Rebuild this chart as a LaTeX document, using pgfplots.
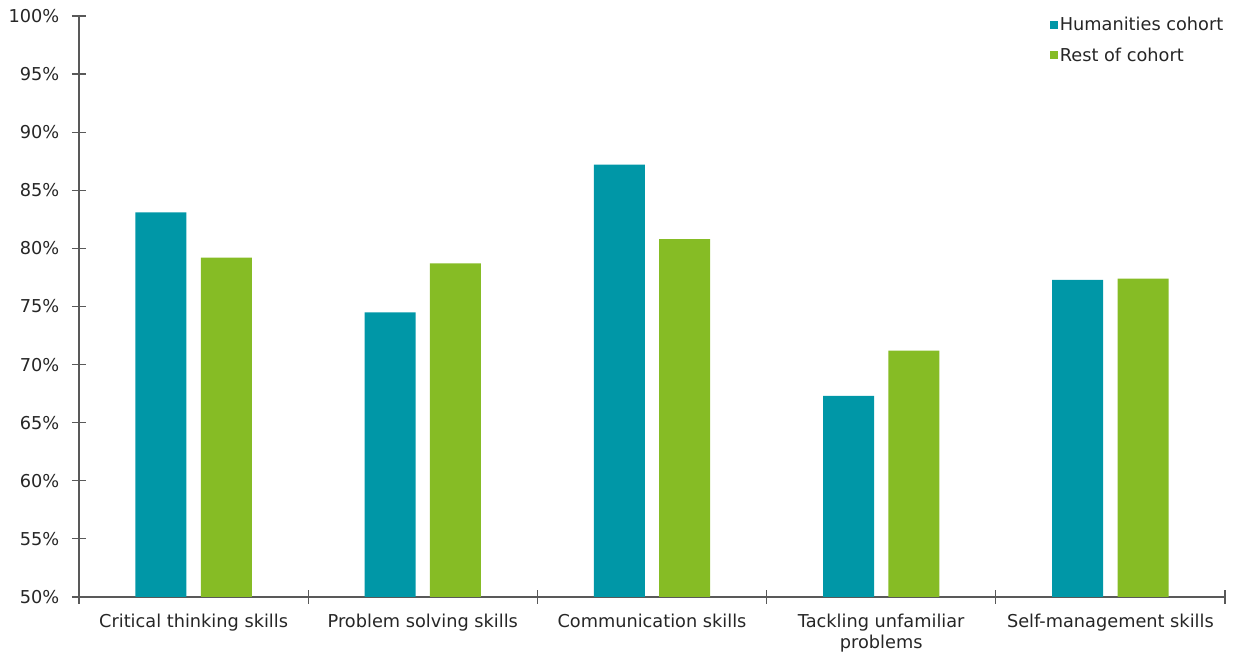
\documentclass[border=0pt]{standalone}
\usepackage{pgfplots}
\pgfplotsset{compat=1.18}
\usepackage{fontspec}
\setmainfont{DejaVu Sans}
\definecolor{hum}{HTML}{0097A7}
\definecolor{rest}{HTML}{86BC25}
\definecolor{axgray}{HTML}{595959}
\definecolor{txt}{HTML}{262626}
\begin{document}
\begin{tikzpicture}
\begin{axis}[
  scale only axis,
  width=859.5pt, height=435.75pt,
  xmin=-0.5, xmax=4.5,
  ymin=50, ymax=100,
  ytick={50,55,...,100},
  yticklabel={\pgfmathprintnumber{\tick}\%},
  /pgf/number format/assume math mode=true,
  font=\fontsize{13.3}{15.75}\selectfont,
  axis x line*=bottom, axis y line*=left,
  axis line style={axgray, line width=0.9pt},
  tick style={axgray, line width=0.9pt},
  tick align=center,
  major tick length=10.5pt,
  xtick={-0.5,0.5,1.5,2.5,3.5,4.5},
  xticklabels={},
  x tick style={yshift=5.25pt},
  extra x ticks={0,1,2,3,4},
  extra x tick labels={Critical thinking skills, Problem solving skills, Communication skills, {Tackling unfamiliar\\problems}, Self-management skills},
  extra x tick style={major tick length=0pt},
  xticklabel style={align=center, text=txt, yshift=-9pt},
  yticklabel style={text=txt, xshift=-6pt},
  ybar, bar width=38.25pt,
  legend style={draw=none, fill=none, at={(0.844,1.0)}, anchor=north west,
    yshift=2.5pt,
    legend cell align=left, row sep=9.5pt, font=\fontsize{13.3}{15.75}\selectfont, text=txt,
    nodes={inner sep=1pt}},
  legend image code/.code={\fill[#1] (-3.5pt,-3pt) rectangle (2.5pt,3pt);},
]
\addplot[fill=hum, draw=none, bar shift=-24.5pt] coordinates {(0,83.1) (1,74.5) (2,87.2) (3,67.3) (4,77.3)};
\addplot[fill=rest, draw=none, bar shift=24.5pt] coordinates {(0,79.2) (1,78.7) (2,80.8) (3,71.2) (4,77.4)};
\legend{Humanities cohort, Rest of cohort}
\end{axis}
\pgfresetboundingbox
\useasboundingbox ([xshift=-59.25pt,yshift=-45pt]current axis.south west) rectangle ([xshift=6.75pt,yshift=12pt]current axis.north east);
\end{tikzpicture}
\end{document}
